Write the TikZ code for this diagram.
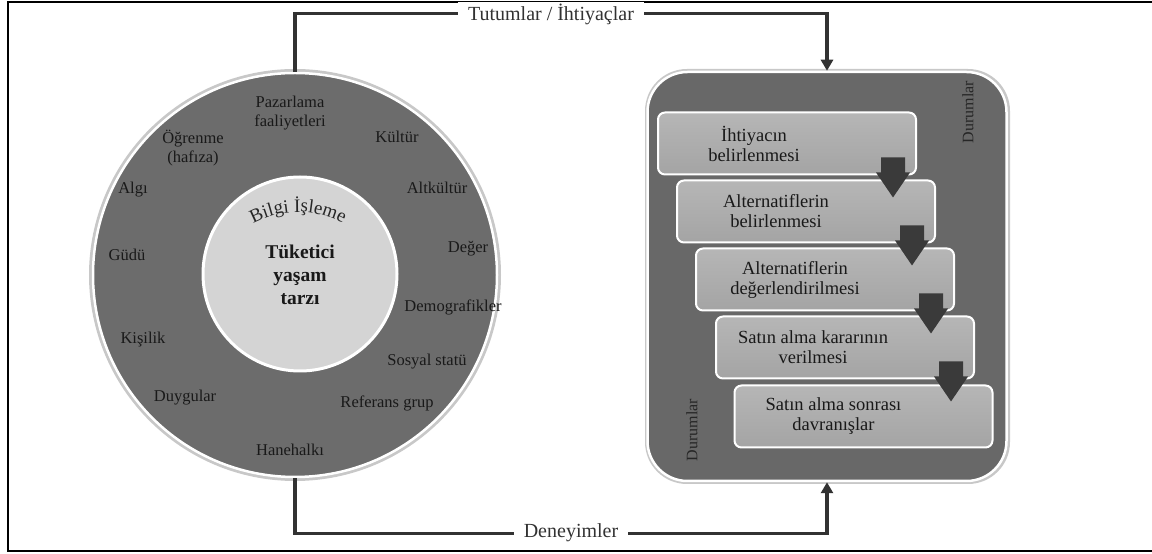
\documentclass[tikz,border=0pt]{standalone}
\usepackage{fontspec}
\setmainfont{Liberation Serif}
\usetikzlibrary{decorations.text, arrows.meta, calc}
\definecolor{ringgray}{RGB}{108,108,108}
\definecolor{coregray}{RGB}{212,212,212}
\definecolor{panelgray}{RGB}{104,104,104}
\definecolor{stepgray}{RGB}{164,164,164}
\definecolor{steptop}{RGB}{182,182,182}
\definecolor{arrowgray}{RGB}{58,58,58}
\definecolor{linegray}{RGB}{50,50,50}
\definecolor{halogray}{RGB}{200,200,200}
\begin{document}
\begin{tikzpicture}[x=1pt,y=1pt,
  lbl/.style={font=\fontsize{16.5}{19}\selectfont, text=black!90, align=center, inner sep=0pt},
  stepbox/.style={rectangle, rounded corners=7pt, top color=steptop, bottom color=stepgray, draw=white, line width=2pt, minimum width=258pt, minimum height=62pt, inner sep=0pt},
  boxtxt/.style={font=\fontsize{18.5}{20}\selectfont, text=black!90, align=center, inner sep=0pt},
  dur/.style={font=\fontsize{16}{16}\selectfont, text=black!85, inner sep=0pt, rotate=90},
  conn/.style={draw=linegray, line width=3.2pt},
  connarrow/.style={conn, -{Triangle[length=11pt,width=12pt]}},
  connlbl/.style={fill=white, font=\fontsize{20}{20}\selectfont, text=linegray, inner xsep=10pt, inner ysep=2pt},
  arrowfill/.style={fill=arrowgray}
]
\useasboundingbox (0,0) rectangle (1152,554);
% frame
\draw[line width=2pt] (1152,552) -- (8,552) -- (8,3) -- (1152,3);

% left circle
\fill[halogray] (295,279) circle (206);
\node[circle, minimum size=404pt, inner sep=0pt, fill=ringgray, draw=white, line width=2.5pt] (outer) at (295,279) {};
\node[circle, minimum size=194pt, inner sep=0pt, fill=coregray, draw=white, line width=3pt] (core) at (300,280) {};
\path[decorate, decoration={text along path, text align=center, text color=black!85,
  text={|\fontsize{19}{19}\selectfont|Bilgi İşleme}}]
  ($(298,249)+(130:93)$) arc[start angle=130, end angle=50, radius=93];
\node[font=\bfseries\fontsize{19.5}{23}\selectfont, text=black!90, align=center, inner sep=0pt] (life) at (300,279) {Tüketici\\yaşam\\tarzı};

\node[lbl] (pz) at (290,441) {Pazarlama\\faaliyetleri};
\node[lbl] (og) at (193,406) {Öğrenme\\(hafıza)};
\node[lbl] (ku) at (397,417) {Kültür};
\node[lbl] (al) at (133,364) {Algı};
\node[lbl] (ak) at (437,366) {Altkültür};
\node[lbl] (gu) at (127,299) {Güdü};
\node[lbl] (de) at (468,305) {Değer};
\node[lbl] (dm) at (453,247) {Demografikler};
\node[lbl] (ki) at (143,214) {Kişilik};
\node[lbl] (ss) at (427,192) {Sosyal statü};
\node[lbl] (du) at (185,156) {Duygular};
\node[lbl] (rg) at (387,151) {Referans grup};
\node[lbl] (hh) at (290,104) {Hanehalkı};

% right panel
\fill[halogray, rounded corners=42pt] (645,70) rectangle (1010,485);
\node[rectangle, rounded corners=40pt, minimum width=359pt, minimum height=409pt, inner sep=0pt, fill=panelgray, draw=white, line width=2.5pt] (rbox) at (827,277.5) {};

\node[dur] (d1) at (968,442) {Durumlar};
\node[dur] (d2) at (692,124) {Durumlar};

\node[stepbox] (b1) at (787,410.5) {};
\node[boxtxt] (t1) at ($(b1.center)+(-33,0)$) {İhtiyacın\\belirlenmesi};
\node[stepbox] (b2) at (806,342.5) {};
\node[boxtxt] (t2) at ($(b2.center)+(-30,0)$) {Alternatiflerin\\belirlenmesi};
\fill[arrowfill, shift={($(b1.south east)+(-24,18)$)}] (-12,0) -- (12,0) -- (12,-15) -- (17,-15) -- (0,-40) -- (-17,-15) -- (-12,-15) -- cycle;
\node[stepbox] (b3) at (825,274.5) {};
\node[boxtxt] (t3) at ($(b3.center)+(-30,0)$) {Alternatiflerin\\değerlendirilmesi};
\fill[arrowfill, shift={($(b2.south east)+(-24,18)$)}] (-12,0) -- (12,0) -- (12,-15) -- (17,-15) -- (0,-40) -- (-17,-15) -- (-12,-15) -- cycle;
\node[stepbox] (b4) at (845,206.5) {};
\node[boxtxt] (t4) at ($(b4.center)+(-32,0)$) {Satın alma kararının\\verilmesi};
\fill[arrowfill, shift={($(b3.south east)+(-24,18)$)}] (-12,0) -- (12,0) -- (12,-15) -- (17,-15) -- (0,-40) -- (-17,-15) -- (-12,-15) -- cycle;
\node[stepbox] (b5) at (863.5,137.5) {};
\node[boxtxt] (t5) at ($(b5.center)+(-30,0)$) {Satın alma sonrası\\davranışlar};
\fill[arrowfill, shift={($(b4.south east)+(-24,18)$)}] (-12,0) -- (12,0) -- (12,-15) -- (17,-15) -- (0,-40) -- (-17,-15) -- (-12,-15) -- cycle;

% connectors
\draw[connarrow] (outer.north) -- ++(0,58) -| (rbox.north);
\draw[connarrow] (outer.south) -- ++(0,-55) -| (rbox.south);
\node[connlbl] (tut) at (551,540) {Tutumlar / İhtiyaçlar};
\node[connlbl] (den) at (571,21) {Deneyimler};
\end{tikzpicture}
\end{document}
